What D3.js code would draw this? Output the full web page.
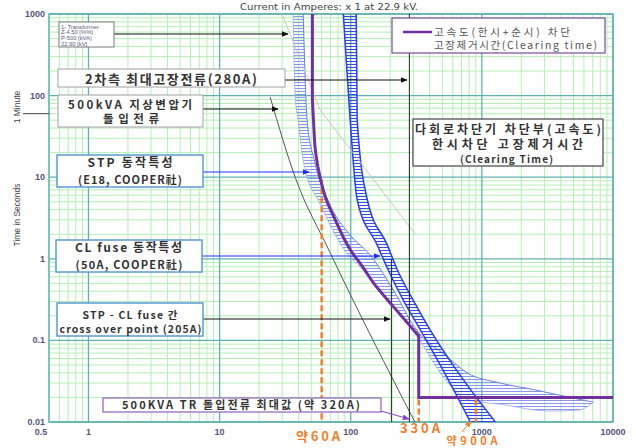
<!DOCTYPE html>
<html>
<head>
<meta charset="utf-8">
<script src="https://cdn.jsdelivr.net/npm/d3@7/dist/d3.min.js"></script>
<style>
body { margin: 0; background: #fff; }
text { font-family: "Noto Sans CJK KR", "Liberation Sans", sans-serif; }
</style>
</head>
<body>
<svg width="636" height="448"></svg>
<script>
// valori (corrente in A, tempo in s)
var xTickValues = [1, 10, 100, 1000, 10000];
var yTickValues = [0.01, 0.1, 1, 10, 100, 1000];

// tempo di eliminazione guasto (viola)
var clearingTime = [[51,1000],[51,100],[52,50],[54,20],[58,10.4],[66,5],[77,2.9],[90,1.7],[104,1.15],[120,0.85],[150,0.5],[209,0.265],[330,0.114],[330,0.02],[10000,0.02]];
// STP E18 : fusione minima / eliminazione totale
var stpMinMelt = [[36.4,1000],[37.7,100],[39.7,50],[43.4,16.2],[46.5,10],[56.5,5.25],[76.2,1.96],[95.7,1.11],[118,0.8],[150,0.5],[205,0.27],[270,0.16],[335,0.1],[526,0.033],[789,0.0186],[1383,0.0165],[3334,0.0136],[5460,0.014],[7100,0.0175]];
var stpTotalClear = [[43.4,1000],[46.5,50],[52.7,16.2],[66.9,5.25],[98.7,1.96],[141,1.11],[190,0.55],[235,0.31],[280,0.183],[340,0.117],[526,0.066],[774,0.04],[1383,0.03],[2470,0.025],[4500,0.0203],[7100,0.0175]];
// CL fuse 50A
var clMinMelt = [[87.7,1000],[99,50],[112,5.25],[159,1.48],[193,0.73],[252,0.31],[340,0.134],[554,0.033],[817,0.01]];
var clTotalClear = [[110,1000],[112,50],[134,5.25],[190,1.48],[227,0.73],[300,0.31],[404,0.134],[722,0.033],[1268,0.01]];
// trasformatore: curva di danno e corrente di inserzione
var trDamage = [[30,1000],[58.5,66.5],[311,2.0]];
var trInrush = [[24.3,96],[37.7,10],[69.8,1.18],[311,0.0097]];
// linee verticali
var faultCurrent = 280;
var crossOver = 205;
var orangeMarks = [[60,10],[330,0.02],[900,0.02]];

var svg = d3.select("svg");
// margini dell'area del grafico (non usare "top": e' window.top)
var pL = 49, pR = 613, pT = 14, pB = 422;

var x = d3.scaleLog().domain([0.5, 10000]).range([pL, pR]);
var y = d3.scaleLog().domain([0.01, 1000]).range([pB, pT]);

var defs = svg.append("defs");
defs.append("clipPath").attr("id", "plot")
  .append("rect").attr("x", pL).attr("y", pT).attr("width", pR - pL).attr("height", pB - pT);

function hatch(id, color, w) {
  defs.append("pattern").attr("id", id).attr("patternUnits", "userSpaceOnUse")
    .attr("width", 10).attr("height", 3)
    .append("line").attr("x1", 0).attr("x2", 10).attr("y1", 1.5).attr("y2", 1.5)
    .attr("stroke", color).attr("stroke-width", w);
}
hatch("hStp", "#6f7ff0", 0.9);
hatch("hCl", "#3a4ce8", 1);

function marker(id, color) {
  defs.append("marker").attr("id", id).attr("viewBox", "0 0 10 10")
    .attr("refX", 9).attr("refY", 5).attr("markerWidth", 7).attr("markerHeight", 7)
    .attr("orient", "auto")
    .append("path").attr("d", "M0,1L10,5L0,9Z").attr("fill", color);
}
marker("aBlack", "#111");
marker("aBlue", "#2030ff");
marker("aPurple", "#8040c0");
marker("aOrange", "#f07f2a");

// griglia
var gx = x.ticks(), gy = y.ticks();
function isMajor(v) { return Math.abs(Math.log10(v) - Math.round(Math.log10(v))) < 1e-6; }

var grid = svg.append("g");
grid.selectAll(".vx").data(gx.filter(function (d) { return !isMajor(d); })).enter().append("line")
  .attr("x1", function (d) { return x(d); }).attr("x2", function (d) { return x(d); })
  .attr("y1", pT).attr("y2", pB).attr("stroke", "#b4f0b4").attr("stroke-width", 1);
grid.selectAll(".hy").data(gy.filter(function (d) { return !isMajor(d); })).enter().append("line")
  .attr("y1", function (d) { return y(d); }).attr("y2", function (d) { return y(d); })
  .attr("x1", pL).attr("x2", pR).attr("stroke", "#b4f0b4").attr("stroke-width", 1);
grid.selectAll(".mx").data(gx.filter(isMajor)).enter().append("line")
  .attr("x1", function (d) { return x(d); }).attr("x2", function (d) { return x(d); })
  .attr("y1", pT).attr("y2", pB).attr("stroke", "#5fb3ae").attr("stroke-width", 1.3);
grid.selectAll(".my").data(gy.filter(isMajor)).enter().append("line")
  .attr("y1", function (d) { return y(d); }).attr("y2", function (d) { return y(d); })
  .attr("x1", pL).attr("x2", pR).attr("stroke", "#5fb3ae").attr("stroke-width", 1.3);
grid.append("rect").attr("x", pL).attr("y", pT).attr("width", pR - pL).attr("height", pB - pT)
  .attr("fill", "none").attr("stroke", "#5fb3ae").attr("stroke-width", 1.5);

// etichette assi
svg.append("g").selectAll("text").data(yTickValues).enter().append("text")
  .attr("x", 45).attr("y", function (d) { return y(d) + 3; })
  .attr("text-anchor", "end").attr("font-size", 9).attr("font-weight", "bold")
  .attr("fill", "#55557a").style("font-family", "Liberation Sans")
  .text(function (d) { return d; });
svg.append("g").selectAll("text").data([0.5].concat(xTickValues)).enter().append("text")
  .attr("x", function (d) { return d == 0.5 ? 41 : x(d); }).attr("y", 435)
  .attr("text-anchor", "middle").attr("font-size", 9).attr("font-weight", "bold")
  .attr("fill", "#55557a").style("font-family", "Liberation Sans")
  .text(function (d) { return d; });

svg.append("text").attr("x", 329).attr("y", 10).attr("text-anchor", "middle")
  .attr("font-size", 8.5).attr("fill", "#444").style("font-family", "DejaVu Sans")
  .attr("textLength", 178).attr("lengthAdjust", "spacingAndGlyphs")
  .text("Current in Amperes: x 1 at 22.9 kV.");
svg.append("text").attr("transform", "translate(20,215) rotate(-90)").attr("text-anchor", "middle")
  .attr("font-size", 8.5).attr("fill", "#444").style("font-family", "Liberation Sans Narrow, Liberation Sans")
  .text("Time in Seconds");
svg.append("text").attr("transform", "translate(20,107) rotate(-90)").attr("text-anchor", "middle")
  .attr("font-size", 8.5).attr("fill", "#444").style("font-family", "Liberation Sans Narrow, Liberation Sans")
  .text("1 Minute");
svg.append("line").attr("x1", 23).attr("x2", pL).attr("y1", y(60)).attr("y2", y(60))
  .attr("stroke", "#444").attr("stroke-width", 1);

// curve
var plot = svg.append("g").attr("clip-path", "url(#plot)");
var line = d3.line().x(function (d) { return x(d[0]); }).y(function (d) { return y(d[1]); });
var smooth = d3.line().x(function (d) { return x(d[0]); }).y(function (d) { return y(d[1]); }).curve(d3.curveMonotoneX);
var smoothY = d3.line().x(function (d) { return x(d[0]); }).y(function (d) { return y(d[1]); }).curve(d3.curveMonotoneY);

function band(a, b) {
  return smooth(a) + smooth(b.slice().reverse()).replace(/^M/, "L") + "Z";
}

plot.append("path").attr("d", band(stpMinMelt, stpTotalClear)).attr("fill", "url(#hStp)").attr("fill-opacity", 0.9);
plot.append("path").attr("d", smooth(stpMinMelt)).attr("fill", "none").attr("stroke", "#9aa6f4").attr("stroke-width", 0.8);
plot.append("path").attr("d", smooth(stpTotalClear)).attr("fill", "none").attr("stroke", "#6c7cf0").attr("stroke-width", 1);

plot.append("path").attr("d", band(clMinMelt, clTotalClear)).attr("fill", "url(#hCl)");
plot.append("path").attr("d", smooth(clMinMelt)).attr("fill", "none").attr("stroke", "#2a3cff").attr("stroke-width", 1.5);
plot.append("path").attr("d", smooth(clTotalClear)).attr("fill", "none").attr("stroke", "#2a3cff").attr("stroke-width", 1.5);

plot.append("path").attr("d", line(trDamage)).attr("fill", "none").attr("stroke", "#c8c8c8").attr("stroke-width", 1);
plot.append("path").attr("d", smooth(trInrush)).attr("fill", "none").attr("stroke", "#555").attr("stroke-width", 1);

plot.append("line").attr("x1", x(faultCurrent)).attr("x2", x(faultCurrent)).attr("y1", pT).attr("y2", pB)
  .attr("stroke", "#222").attr("stroke-width", 1);
plot.append("line").attr("x1", x(crossOver)).attr("x2", x(crossOver)).attr("y1", y(1)).attr("y2", pB)
  .attr("stroke", "#222").attr("stroke-width", 1);

plot.selectAll(".om").data(orangeMarks).enter().append("line")
  .attr("x1", function (d) { return x(d[0]); }).attr("x2", function (d) { return x(d[0]); })
  .attr("y1", function (d) { return y(d[1]) + 2; }).attr("y2", pB)
  .attr("stroke", "#f07f2a").attr("stroke-width", 2.5).attr("stroke-dasharray", "6,3");

plot.append("path").attr("d", smoothY(clearingTime.slice(0, 13)) + line(clearingTime.slice(12)).replace(/^M/, "L"))
  .attr("fill", "none").attr("stroke", "#7030a0").attr("stroke-width", 3);

// riquadri di testo
function box(bx, by, bw, bh, stroke, sw) {
  svg.append("rect").attr("x", bx).attr("y", by).attr("width", bw).attr("height", bh)
    .attr("fill", "#fff").attr("stroke", stroke).attr("stroke-width", sw);
}
function label(tx, ty, str, size, weight, anchor, fill, len) {
  var t = svg.append("text").attr("x", tx).attr("y", ty).attr("font-size", size)
    .attr("font-weight", weight).attr("text-anchor", anchor).attr("fill", fill).text(str);
  if (len) t.attr("textLength", len).attr("lengthAdjust", "spacing");
  return t;
}
function arrow(x1, y1, x2, y2, color, id) {
  svg.append("line").attr("x1", x1).attr("y1", y1).attr("x2", x2).attr("y2", y2)
    .attr("stroke", color).attr("stroke-width", 1).attr("marker-end", "url(#" + id + ")");
}

arrow(114, 34, 288, 34, "#111", "aBlack");
box(59, 22, 55, 25, "#7a7a7a", 1);
["1- Transformer", "Z-4.50 [%%]", "P-500 [kVA]", "22.90 [kV]"].forEach(function (s, i) {
  label(61, 28.5 + i * 5.8, s, 5.8, "normal", "start", "#5a5a7a").style("font-family", "Liberation Sans");
});

arrow(285, 80, 407, 80, "#111", "aBlack");
box(58, 69, 227, 18, "#a0a0a0", 1);
label(171, 83.5, "2차측 최대고장전류(280A)", 13, "bold", "middle", "#333", 172);

arrow(203, 109, 278, 109, "#111", "aBlack");
box(58, 95, 145, 32, "#a0a0a0", 1);
label(130, 108.5, "500kVA 지상변압기", 11.5, "bold", "middle", "#333", 124);
label(131, 122.5, "돌입전류", 11.5, "bold", "middle", "#333", 56);

arrow(203, 172, 309, 172, "#2030ff", "aBlue");
box(57, 155, 146, 32, "#5b9bd5", 1.5);
label(130, 167, "STP 동작특성", 12, "bold", "middle", "#333", 85);
label(130, 184, "(E18, COOPER社)", 11, "bold", "middle", "#333", 104);

arrow(202, 256, 380, 256, "#2030ff", "aBlue");
box(56, 240, 146, 32, "#5b9bd5", 1.5);
label(128.5, 252, "CL fuse 동작특성", 12, "bold", "middle", "#333", 107);
label(129, 269, "(50A, COOPER社)", 11, "bold", "middle", "#333", 107);

arrow(203, 319, 390, 319, "#111", "aBlack");
box(57, 303, 146, 33, "#5b9bd5", 1.5);
label(130, 318.5, "STP - CL fuse 간", 10.5, "bold", "middle", "#333", 95);
label(130.5, 332.5, "cross over point (205A)", 10.5, "bold", "middle", "#333", 142);

arrow(381, 411, 409, 419, "#8040c0", "aPurple");
box(103, 398, 278, 14, "#9060c0", 1.2);
label(241, 409, "500KVA TR 돌입전류 최대값 (약 320A)", 11, "bold", "middle", "#333", 238);

box(392, 18, 213, 35, "#7a4a9a", 1.2);
svg.append("line").attr("x1", 403).attr("x2", 432).attr("y1", 32).attr("y2", 32)
  .attr("stroke", "#7030a0").attr("stroke-width", 2.5);
label(434, 35.5, "고속도(한시+순시) 차단", 10.5, "normal", "start", "#555", 136);
label(434, 49, "고장제거시간(Clearing time)", 10.5, "normal", "start", "#555", 163);

box(413, 119, 190, 47, "#444", 1.2);
label(508, 134, "다회로차단기 차단부(고속도)", 12, "bold", "middle", "#333", 186);
label(507.5, 148.5, "한시차단 고장제거시간", 12, "bold", "middle", "#333", 151);
label(506.5, 162.5, "(Clearing Time)", 10, "bold", "middle", "#333", 93);

// etichette arancioni
label(318, 441, "약60A", 13, "bold", "middle", "#f07f2a", 44);
label(420, 433, "330A", 13, "bold", "middle", "#f07f2a", 40);
label(472, 444.5, "약900A", 11, "bold", "middle", "#f07f2a", 51);
arrow(462, 432, 471, 421, "#f07f2a", "aOrange");
</script>
</body>
</html>
